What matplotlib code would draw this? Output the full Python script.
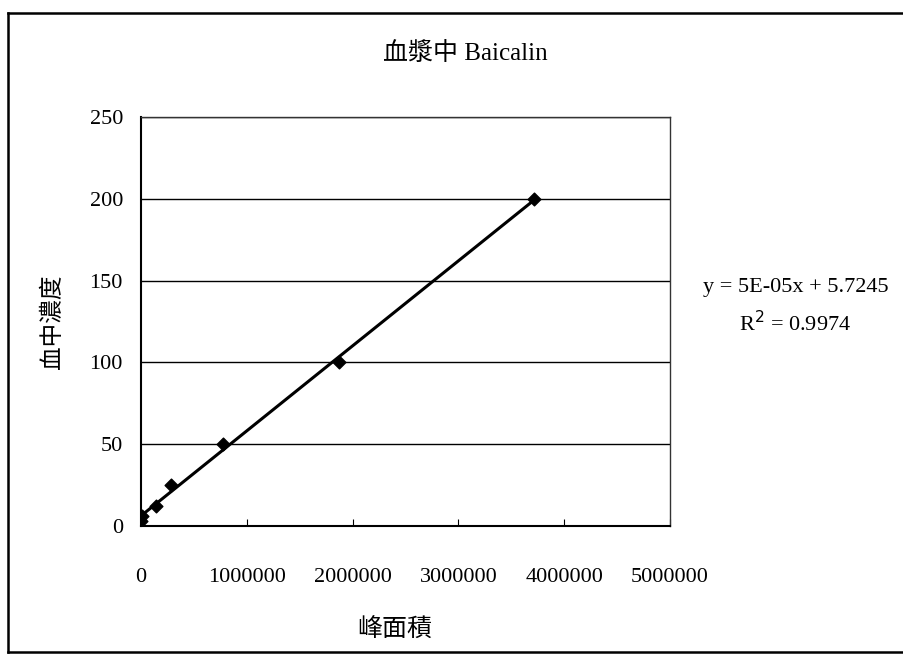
import numpy as np
import matplotlib
matplotlib.use("Agg")
import matplotlib.pyplot as plt
from matplotlib.lines import Line2D

# Calibration data: peak area vs plasma concentration
peak_area = [3000, 12000, 140000, 280000, 775000, 1870000, 3720000]
conc = [3.125, 6.25, 12.5, 25, 50, 100, 200]

title_txt = "血漿中 Baicalin"
x_label = "峰面積"
y_label = "血中濃度"
eq_txt = "y = 5E-05x + 5.7245"
r2_txt = "R$^2$ = 0.9974"

x_ticks = [0, 1000000, 2000000, 3000000, 4000000, 5000000]
y_ticks = [0, 50, 100, 150, 200, 250]

SERIF = ["Liberation Serif", "DejaVu Serif"]
CJK = ["Liberation Serif", "Noto Sans CJK TC", "DejaVu Sans"]

fig = plt.figure(figsize=(9.04, 6.56), dpi=100)
ax = fig.add_axes([0.156, 0.198, 0.585, 0.624])

# outer frame (left, top and bottom edges; right edge is cut off)
W, H = 904.0, 656.0
x0, y0, y1 = 8 / W, 1 - 652 / H, 1 - 13 / H
for xs_, ys_ in [([x0, x0], [y0, y1]), ([x0, 1], [y1, y1]), ([x0, 1], [y0, y0])]:
    fig.add_artist(Line2D(xs_, ys_, transform=fig.transFigure, color="black", linewidth=1.8))

# trendline from a least-squares fit
k, b = np.polyfit(peak_area, conc, 1)
xs = np.array([min(peak_area), max(peak_area)])
ax.plot(xs, k * xs + b, color="black", linewidth=2.2, zorder=3)
ax.scatter(peak_area, conc, marker="D", s=42, color="black", zorder=4)

ax.set_xlim(0, 5000000)
ax.set_ylim(0, 250)
ax.set_xticks(x_ticks)
ax.set_yticks(y_ticks)
ax.set_xticklabels([str(v) for v in x_ticks], family=SERIF, fontsize=16)
ax.set_yticklabels([str(v) for v in y_ticks], family=SERIF, fontsize=16)
ax.tick_params(axis="x", direction="in", length=5, pad=30)
ax.tick_params(axis="y", length=0, pad=13)
ax.yaxis.grid(True, color="black", linewidth=1)
ax.set_axisbelow(True)
for s in ax.spines.values():
    s.set_color("#333333")
    s.set_linewidth(1)
ax.spines["left"].set_color("black")
ax.spines["bottom"].set_color("black")
ax.spines["left"].set_linewidth(1.5)
ax.spines["bottom"].set_linewidth(1.5)

fig.text(0.515, 0.919, title_txt, ha="center", va="center", fontsize=18, family=CJK)
fig.text(0.437, 0.04, x_label, ha="center", va="center", fontsize=18, family=CJK)
fig.text(0.058, 0.509, y_label, ha="center", va="center", fontsize=17, family=CJK,
         rotation=90)
fig.text(0.88, 0.561, eq_txt, ha="center", va="center", fontsize=16, family=SERIF)
fig.text(0.88, 0.507, r2_txt, ha="center", va="center", fontsize=16, family=SERIF)

fig.savefig("out.png", dpi=100)
